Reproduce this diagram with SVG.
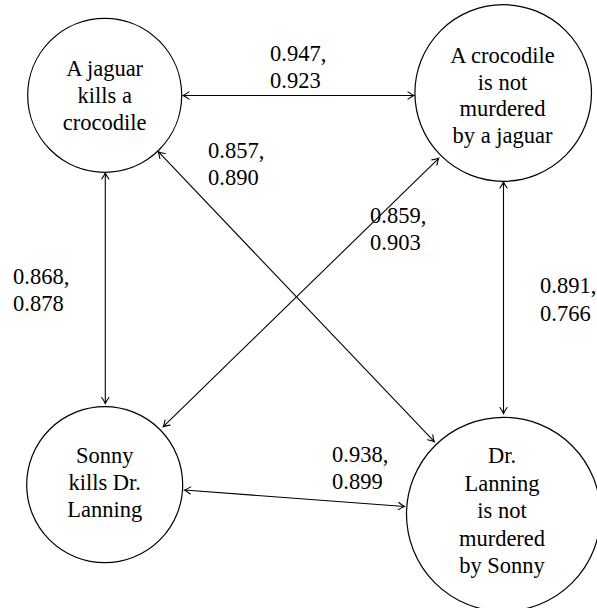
<svg xmlns="http://www.w3.org/2000/svg" width="597" height="608" viewBox="0 0 597 608">
<style>
.node circle{fill:#fff;stroke:#000;stroke-width:1.2}
text{font-family:"Liberation Serif","Times New Roman",serif;font-size:22.5px;fill:#000}
.nt{text-anchor:middle}
.conn line{stroke:#000;stroke-width:1.1;fill:none;marker-start:url(#ah);marker-end:url(#ah)}
</style>
<defs>
<marker id="ah" markerUnits="userSpaceOnUse" viewBox="-8 -5 10 10" refX="0" refY="0" markerWidth="10" markerHeight="10" orient="auto-start-reverse">
<path d="M -6 -3.6 Q -2 -0.8 0 0 Q -2 0.8 -6 3.6" fill="none" stroke="#000" stroke-width="1.1" stroke-linecap="round"/>
</marker>
</defs>
<rect width="597" height="608" fill="#fff"/>
<g id="connectors" class="conn">
<line x1="183" y1="95.5" x2="414" y2="95.5"/>
<line x1="105.3" y1="173" x2="105.3" y2="403.5"/>
<line x1="503.5" y1="182" x2="503.5" y2="413.5"/>
<line x1="184.5" y1="490" x2="404.5" y2="506.5"/>
<line x1="158.3" y1="151.7" x2="434.3" y2="441.7"/>
<line x1="438.7" y1="158.3" x2="163.3" y2="426.7"/>
</g>
<g id="labels">
<text x="270" y="61">0.947,<tspan x="270" y="88">0.923</tspan></text>
<text x="208" y="158">0.857,<tspan x="208" y="185">0.890</tspan></text>
<text x="370" y="223">0.859,<tspan x="370" y="250">0.903</tspan></text>
<text x="13" y="284">0.868,<tspan x="13" y="311">0.878</tspan></text>
<text x="540" y="293">0.891,<tspan x="540" y="321">0.766</tspan></text>
<text x="332" y="462">0.938,<tspan x="332" y="489">0.899</tspan></text>
</g>
<g id="n1" class="node">
<circle cx="104.7" cy="95.3" r="77"/>
<text class="nt" x="104.7" y="76">A jaguar<tspan x="104.7" y="103">kills a</tspan><tspan x="104.7" y="130">crocodile</tspan></text>
</g>
<g id="n2" class="node">
<circle cx="503.2" cy="93" r="88.3"/>
<text class="nt" x="502.5" y="63">A crocodile<tspan x="502.5" y="89.5">is not</tspan><tspan x="502.5" y="116">murdered</tspan><tspan x="502.5" y="142.5">by a jaguar</tspan></text>
</g>
<g id="n3" class="node">
<circle cx="104.7" cy="484.7" r="78"/>
<text class="nt" x="104.7" y="463">Sonny<tspan x="104.7" y="490">kills Dr.</tspan><tspan x="104.7" y="517">Lanning</tspan></text>
</g>
<g id="n4" class="node">
<circle cx="503.5" cy="514.3" r="97"/>
<text class="nt" x="502" y="463">Dr.<tspan x="502" y="490.5">Lanning</tspan><tspan x="502" y="518">is not</tspan><tspan x="502" y="545.5">murdered</tspan><tspan x="502" y="573">by Sonny</tspan></text>
</g>
</svg>
